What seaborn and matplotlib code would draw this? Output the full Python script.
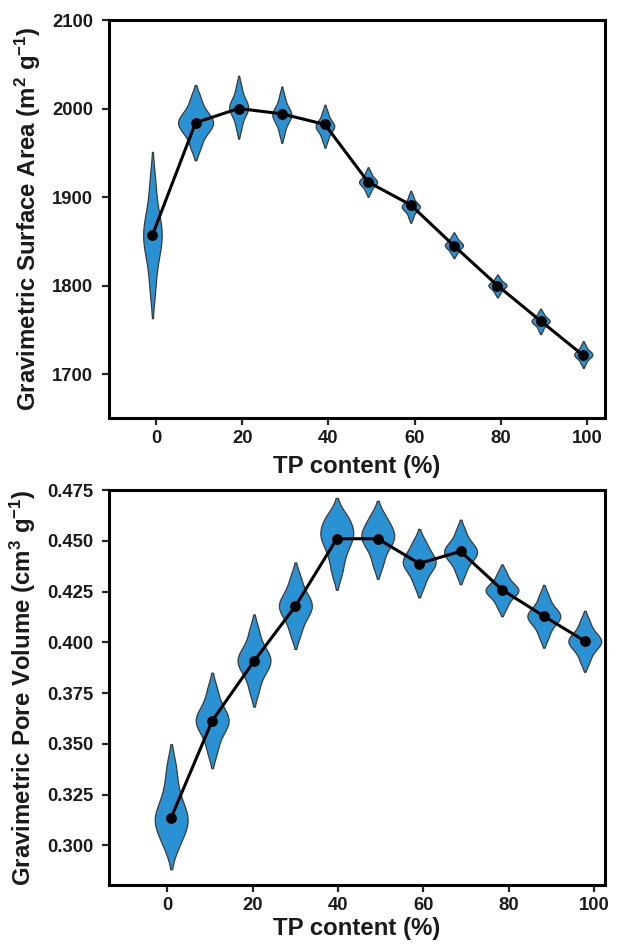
import numpy as np
import pandas as pd
import matplotlib
matplotlib.use("Agg")
import matplotlib.pyplot as plt
import seaborn as sns

# ---------------- data ----------------
tp_top = [-0.8, 9.2, 19.2, 29.2, 39.2, 49.2, 59.1, 69.1, 79.2, 89.2, 99.1]
sa_mean = [1857, 1984, 2000, 1994, 1982, 1917, 1891, 1845, 1800, 1760, 1721]
sa_samples = [
    [1795, 1823, 1840, 1850, 1857, 1864, 1874, 1891, 1919],
    [1956, 1969, 1976, 1981, 1984, 1987, 1992, 1999, 2012],
    [1978, 1989, 1995, 1999, 2001, 2004, 2008, 2014, 2025],
    [1972, 1982, 1987, 1991, 1993, 1995, 1999, 2004, 2014],
    [1964, 1971, 1976, 1978, 1980, 1982, 1984, 1989, 1996],
    [1906, 1911, 1914, 1916, 1917, 1918, 1920, 1923, 1928],
    [1877, 1883, 1886, 1888, 1889, 1890, 1892, 1895, 1901],
    [1836, 1840, 1843, 1844, 1845.5, 1847, 1848, 1851, 1855],
    [1791, 1795, 1797, 1799, 1800, 1801, 1802, 1804, 1808],
    [1750, 1755, 1757, 1759, 1760, 1761, 1762, 1765, 1769],
    [1712, 1717, 1719, 1721, 1722, 1723, 1725, 1727, 1732],
]

tp_bot = [0.9, 10.5, 20.3, 30.0, 39.7, 49.3, 59.0, 68.7, 78.4, 88.2, 97.8]
pv_mean = [0.3136, 0.3613, 0.3907, 0.4178, 0.4510, 0.4510, 0.4388, 0.4448, 0.4259, 0.4129, 0.4006]
pv_samples = [
    [0.299, 0.305, 0.309, 0.312, 0.314, 0.317, 0.322, 0.329, 0.339],
    [0.346, 0.353, 0.357, 0.360, 0.3615, 0.363, 0.366, 0.370, 0.377],
    [0.376, 0.383, 0.387, 0.389, 0.391, 0.393, 0.395, 0.399, 0.406],
    [0.404, 0.410, 0.414, 0.416, 0.418, 0.420, 0.422, 0.426, 0.432],
    [0.434, 0.441, 0.446, 0.450, 0.452, 0.454, 0.457, 0.460, 0.463],
    [0.438, 0.444, 0.448, 0.450, 0.452, 0.454, 0.456, 0.459, 0.463],
    [0.428, 0.433, 0.436, 0.438, 0.4395, 0.441, 0.443, 0.446, 0.450],
    [0.434, 0.439, 0.4415, 0.443, 0.4445, 0.446, 0.4475, 0.450, 0.455],
    [0.4172, 0.421, 0.4233, 0.4247, 0.4256, 0.4265, 0.4279, 0.4302, 0.434],
    [0.4026, 0.4073, 0.410, 0.4117, 0.4128, 0.414, 0.4156, 0.4183, 0.423],
    [0.3906, 0.3951, 0.3978, 0.3994, 0.4005, 0.4016, 0.4032, 0.4059, 0.4104],
]

x_ticks = [0, 20, 40, 60, 80, 100]
sa_ticks = [1700, 1800, 1900, 2000, 2100]
pv_ticks = [0.300, 0.325, 0.350, 0.375, 0.400, 0.425, 0.450, 0.475]

x_label = "TP content (%)"
sa_label = r"Gravimetric Surface Area (m$^{2}$ g$^{-1}$)"
pv_label = r"Gravimetric Pore Volume (cm$^{3}$ g$^{-1}$)"

# ---------------- style ----------------
top_widths = [4.3, 8.1, 4.4, 4.4, 4.3, 4.2, 4.2, 4.2, 4.2, 4.2, 4.2]
bot_widths = [7.7] * 11
FILL = "#2a91d2"
EDGE = "#3a3a3a"
TXT = "#1a1a1a"

sns.set_style("ticks")
plt.rcParams["font.family"] = ["Liberation Sans", "DejaVu Sans"]
plt.rcParams["font.weight"] = "bold"
plt.rcParams["axes.labelweight"] = "bold"
plt.rcParams["mathtext.fontset"] = "custom"
plt.rcParams["mathtext.rm"] = "Liberation Sans:bold"
plt.rcParams["mathtext.it"] = "Liberation Sans:bold"
plt.rcParams["mathtext.bf"] = "Liberation Sans:bold"
plt.rcParams["mathtext.default"] = "rm"

fig = plt.figure(figsize=(6.21, 9.44), dpi=100)
ax1 = fig.add_axes([0.176, 0.5569, 0.798, 0.4219])
ax2 = fig.add_axes([0.176, 0.0620, 0.798, 0.4189])


def draw(ax, xs, samples, means, widths):
    for x, s, w in zip(xs, samples, widths):
        df = pd.DataFrame({"x": [x] * len(s), "y": s})
        sns.violinplot(data=df, x="x", y="y", native_scale=True, width=w,
                       density_norm="width", inner=None, color=FILL,
                       linecolor=EDGE, linewidth=0.9, saturation=1,
                       bw_adjust=0.8, cut=1.7, ax=ax)
    sns.lineplot(x=xs, y=means, color="black", lw=2.2, marker="o",
                 markersize=7, markeredgecolor="black", ax=ax, zorder=5)


draw(ax1, tp_top, sa_samples, sa_mean, top_widths)
draw(ax2, tp_bot, pv_samples, pv_mean, bot_widths)

ax1.set_xlim(-10.8, 104.1)
ax1.set_ylim(1650, 2100)
ax1.set_yticks(sa_ticks)
ax1.set_ylabel(sa_label, fontsize=17.3, color=TXT, labelpad=6.5)

ax2.set_xlim(-13.6, 102.5)
ax2.set_ylim(0.2802, 0.475)
ax2.set_yticks(pv_ticks)
ax2.set_yticklabels([f"{t:.3f}" for t in pv_ticks])
ax2.set_ylabel(pv_label, fontsize=17.3, color=TXT, labelpad=6.5)

for ax, lp in ((ax1, 5.5), (ax2, 2.0)):
    ax.set_xticks(x_ticks)
    ax.set_xticklabels([str(t) for t in x_ticks])
    ax.set_xlabel(x_label, fontsize=17.3, color=TXT, labelpad=lp)
    for sp in ax.spines.values():
        sp.set_linewidth(2.2)
        sp.set_color("black")
        sp.set_visible(True)
    ax.tick_params(axis="both", width=1.6, length=5, labelsize=13.3,
                   labelcolor=TXT)
    ax.tick_params(axis="x", pad=3.5)
    ax.tick_params(axis="y", pad=6.5)
    for lbl in ax.get_xticklabels() + ax.get_yticklabels():
        lbl.set_fontweight("bold")

fig.savefig("out.png", dpi=100)
